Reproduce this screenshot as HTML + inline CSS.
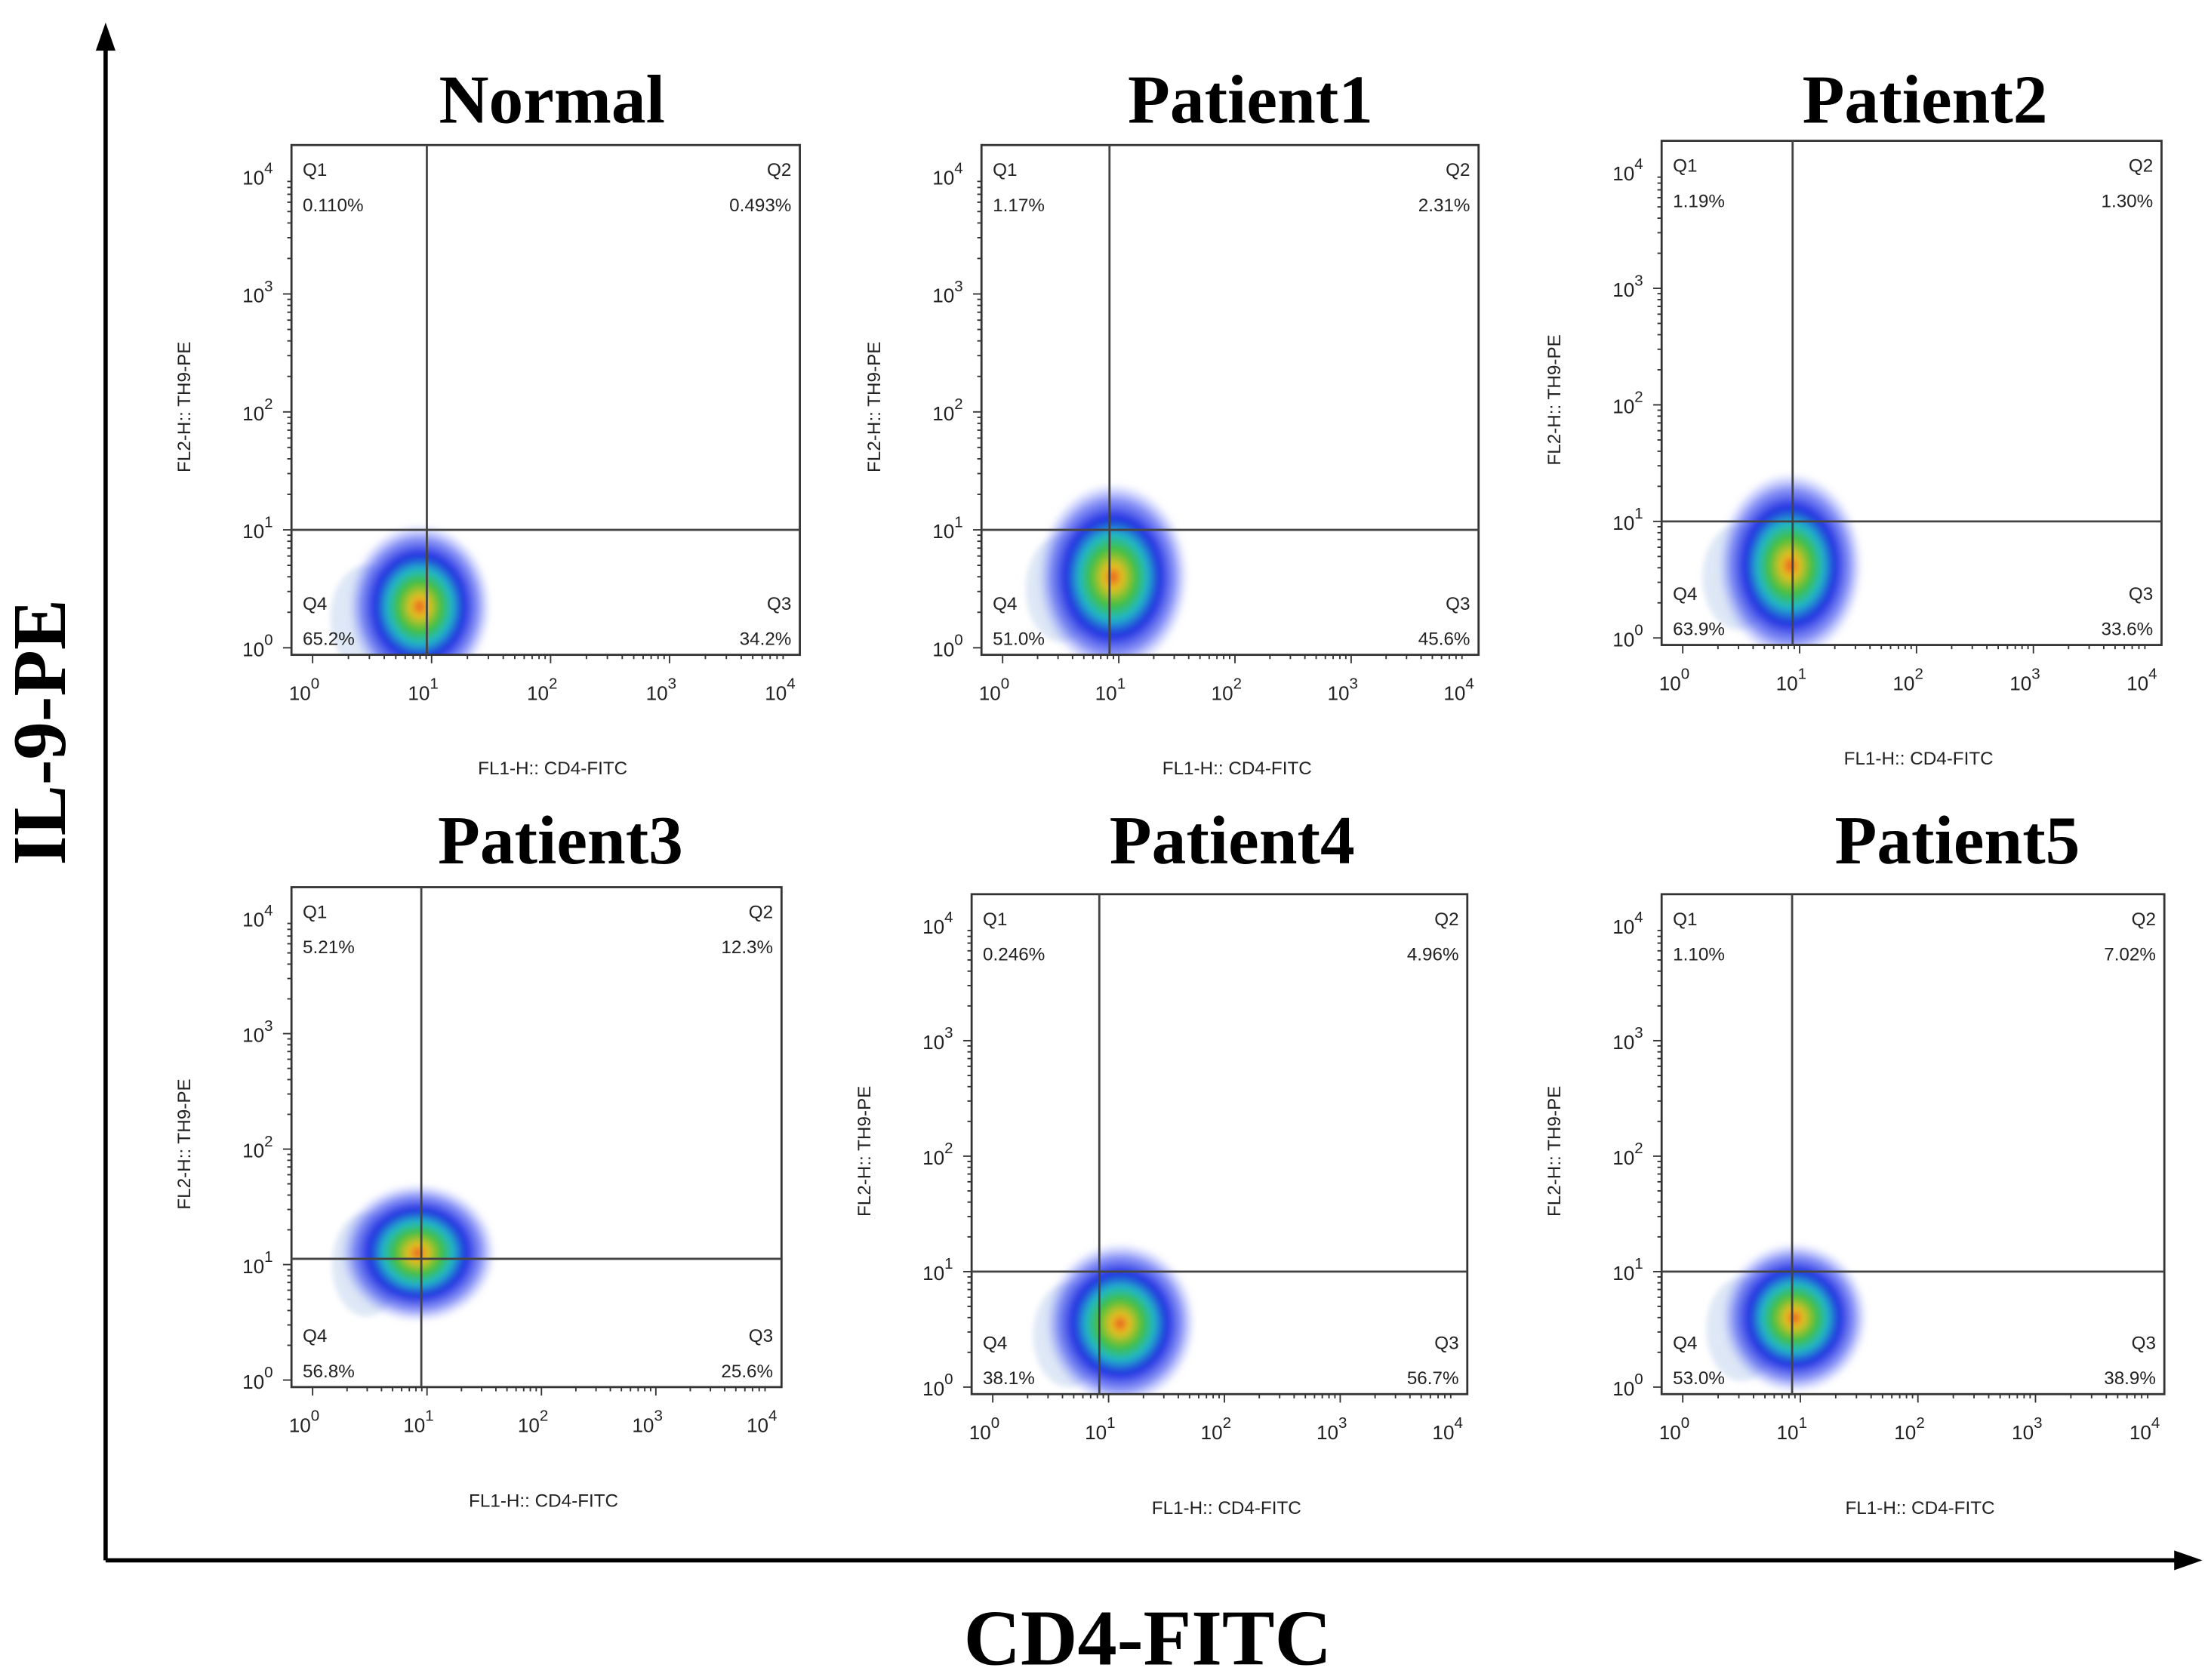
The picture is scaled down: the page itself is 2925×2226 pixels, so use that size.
<!DOCTYPE html>
<html><head><meta charset="utf-8">
<style>
html,body{margin:0;padding:0;background:#fff;}
svg{display:block;}
.t{font-family:"Liberation Serif",serif;font-weight:bold;fill:#000;}
.s{font-family:"Liberation Sans",sans-serif;fill:#222;}
</style></head>
<body>
<svg id="fig" width="2925" height="2226" viewBox="0 0 1568 1193" preserveAspectRatio="none" xmlns="http://www.w3.org/2000/svg">
<defs>
<radialGradient id="cg">
<stop offset="0" stop-color="#e85020"/>
<stop offset="0.12" stop-color="#e8c020"/>
<stop offset="0.3" stop-color="#40c040"/>
<stop offset="0.45" stop-color="#20b8c8"/>
<stop offset="0.62" stop-color="#2030e0"/>
<stop offset="0.82" stop-color="#4050f0" stop-opacity="0.6"/>
<stop offset="1" stop-color="#8090ff" stop-opacity="0"/>
</radialGradient>
<filter id="bl"><feGaussianBlur stdDeviation="2"/></filter>
</defs>
<g>
<line x1="75" y1="1108" x2="75" y2="30" stroke="#000" stroke-width="3"/>
<polygon points="75,16 68,36 82,36" fill="#000"/>
</g>
<g>
<line x1="75" y1="1108" x2="1550" y2="1108" stroke="#000" stroke-width="3"/>
<polygon points="1564,1108 1544,1101 1544,1115" fill="#000"/>
</g>
<text class="t" x="0" y="0" transform="translate(46,520) rotate(-90)" text-anchor="middle" font-size="54">IL-9-PE</text>
<text class="t" x="815" y="1182" text-anchor="middle" font-size="56">CD4-FITC</text>
<g id="panels"></g>
</svg>
<script>
const titles = ["Normal","Patient1","Patient2","Patient3","Patient4","Patient5"];
const q1 = ["0.110%","1.17%","1.19%","5.21%","0.246%","1.10%"];
const q2 = ["0.493%","2.31%","1.30%","12.3%","4.96%","7.02%"];
const q3 = ["34.2%","45.6%","33.6%","25.6%","56.7%","38.9%"];
const q4 = ["65.2%","51.0%","63.9%","56.8%","38.1%","53.0%"];
const gateX = [0.96,0.92,0.94,0.95,0.92,0.93];
const gateY = [1.0,1.0,1.0,1.05,1.0,1.0];
const cloudX = [0.9,0.95,0.92,0.92,1.1,0.95];
const cloudY = [0.35,0.6,0.62,1.1,0.55,0.6];
const cloudSX = [0.6,0.65,0.62,0.68,0.65,0.62];
const cloudSY = [0.7,0.8,0.8,0.6,0.7,0.65];
const tickLabels = ["0","1","2","3","4"];
const boxes = [[207,103,568,465],[697,103,1050,465],[1180,100,1535,458],[207,630,555,985],[690,635,1042,990],[1180,635,1537,990]];
const titlePos = [[392,72],[888,72],[1367,72],[398,598],[875,598],[1390,598]];
const NS="http://www.w3.org/2000/svg";
const root=document.getElementById('panels');
function mk(tag,attrs,parent){const e=document.createElementNS(NS,tag);for(const k in attrs)e.setAttribute(k,attrs[k]);parent.appendChild(e);return e;}
titles.forEach((name,i)=>{
  const [x0,y0,x1,y1]=boxes[i];
  const sx=v=>x0+15+v*(x1-x0-23)/4;
  const sy=v=>y1-5-v*(y1-y0-27)/4;
  const g=mk('g',{},root);
  
  
  const t=mk('text',{class:'t',x:titlePos[i][0],y:titlePos[i][1]+15,'text-anchor':'middle','font-size':49},g);
  t.textContent=name;
  
  
  const cp=mk('clipPath',{id:'cp'+i},g);
  mk('rect',{x:x0,y:y0,width:x1-x0,height:y1-y0},cp);
  const cg=mk('g',{'clip-path':'url(#cp'+i+')'},g);
  const lb=mk('ellipse',{cx:sx(cloudX[i]-0.45),cy:sy(cloudY[i]-0.1),rx:(sx(0.3)-sx(0)),ry:(sy(0)-sy(0.45)),fill:'#d0def2',opacity:0.7,filter:'url(#bl)'},cg);
  
  
  const c=mk('ellipse',{cx:sx(cloudX[i]),cy:sy(cloudY[i]),rx:sx(cloudSX[i])-sx(0),ry:sy(0)-sy(cloudSY[i]),fill:'url(#cg)',filter:'url(#bl)'},cg);
  
  
  const rect=mk('rect',{x:x0,y:y0,width:x1-x0,height:y1-y0,fill:'none',stroke:'#333','stroke-width':1.5},g);
  
  
  const vl=mk('line',{x1:sx(gateX[i]),x2:sx(gateX[i]),y1:y0,y2:y1,stroke:'#444','stroke-width':1.5},g);
  
  
  const hl=mk('line',{x1:x0,x2:x1,y1:sy(gateY[i]),y2:sy(gateY[i]),stroke:'#444','stroke-width':1.5},g);
  
  
  for(let d=0;d<4;d++){for(let m=1;m<10;m++){const v=d+Math.log10(m);const L=m==1?6:3;
    mk('line',{x1:sx(v),x2:sx(v),y1:y1,y2:y1+L,stroke:'#333','stroke-width':1},g);
    mk('line',{x1:x0,x2:x0-L,y1:sy(v),y2:sy(v),stroke:'#333','stroke-width':1},g);}}
  tickLabels.forEach((lab,k)=>{
    const tx=mk('text',{class:'s',x:sx(k)-6,y:y1+32,'font-size':14,'text-anchor':'middle'},g);
    tx.innerHTML='10<tspan dy="-8" font-size="11">'+lab+'</tspan>';
    
    
    const ty=mk('text',{class:'s',x:x0-24,y:sy(k)+6,'font-size':14,'text-anchor':'middle'},g);
    ty.innerHTML='10<tspan dy="-8" font-size="11">'+lab+'</tspan>';
    
    
  });
  const xl=mk('text',{class:'s',x:(x0+x1)/2+5,y:y1+85,'font-size':13,'text-anchor':'middle'},g);
  xl.textContent='FL1-H:: CD4-FITC';
  
  
  const yl=mk('text',{class:'s',x:0,y:0,'font-size':13,'text-anchor':'middle',transform:`translate(${x0-72},${(y0+y1)/2+5}) rotate(-90)`},g);
  yl.textContent='FL2-H:: TH9-PE';
  
  
  const qs=[['Q1',q1[i],x0+8,y0+22,'start'],['Q2',q2[i],x1-6,y0+22,'end'],['Q4',q4[i],x0+8,y1-32,'start'],['Q3',q3[i],x1-6,y1-32,'end']];
  qs.forEach(q=>{
    const a=mk('text',{class:'s',x:q[2],y:q[3],'font-size':13,'text-anchor':q[4]},g);
    a.textContent=q[0];
    
    
    const b=mk('text',{class:'s',x:q[2],y:q[3]+25,'font-size':13,'text-anchor':q[4]},g);
    b.textContent=q[1];
    
    
  });
});
</script>
</body></html>
